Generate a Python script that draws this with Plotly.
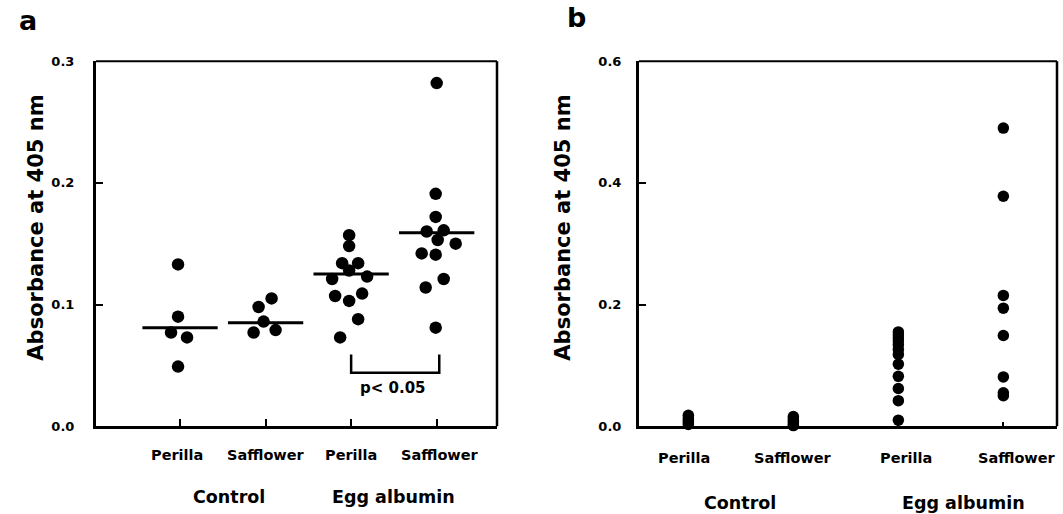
import plotly.graph_objects as go

# ---------------- data ----------------
categories = ["Perilla", "Safflower", "Perilla", "Safflower"]
groups = ["Control", "Egg albumin"]
y_ticks_a = [0.0, 0.1, 0.2, 0.3]
y_ticks_b = [0.0, 0.2, 0.4, 0.6]

# Panel a: individual values per group
a_control_perilla = [0.133, 0.090, 0.077, 0.073, 0.049]
a_control_safflower = [0.105, 0.098, 0.086, 0.077, 0.079]
a_egg_perilla = [0.157, 0.148, 0.134, 0.134, 0.128, 0.121, 0.123, 0.107, 0.109, 0.103, 0.088, 0.073]
a_egg_safflower = [0.282, 0.191, 0.172, 0.160, 0.161, 0.153, 0.150, 0.142, 0.141, 0.121, 0.114, 0.081]
a_means = [0.081, 0.085, 0.125, 0.159]

# Panel b: individual values per group
b_control_perilla = [0.018, 0.014, 0.010, 0.006, 0.003]
b_control_safflower = [0.016, 0.012, 0.008, 0.004, 0.001]
b_egg_perilla = [0.155, 0.150, 0.145, 0.140, 0.134, 0.126, 0.118, 0.102, 0.082, 0.062, 0.042, 0.010]
b_egg_safflower = [0.490, 0.378, 0.215, 0.194, 0.149, 0.081, 0.055, 0.050]

p_label = "p< 0.05"

# ---------------- layout constants ----------------
W, H = 1063, 514
FONT = "DejaVu Sans"
# beeswarm horizontal offsets in pixels (layout only)
a_offsets_px = [
    [-2, -2, -9, 7, -2],
    [6, -7, -2, -12, 10],
    [-2, -2, -9, 7, -2, -19, 16, -16, 11, -2, 7, -11],
    [0, -1, -1, -10, 7, 1, 19, -15, -1, 7, -11, -1],
]

ax_a = dict(x0=96, x1=497, xr=[0.0175, 4.705])
ax_b = dict(x0=639, x1=1057, xr=[0.530, 4.511])
y_top, y_bot = 62, 426

# vertical calibration of the rendered page
Y_OFF, Y_SCALE = 8.0, 0.968


def py(y_px):
    """paper y fraction for a target pixel row"""
    return 1 - ((y_px - Y_OFF) / Y_SCALE) / H


def px_per_unit(ax):
    return (ax["x1"] - ax["x0"]) / (ax["xr"][1] - ax["xr"][0])


fig = go.Figure()

# panel a dots
ppu_a = px_per_unit(ax_a)
a_groups = [a_control_perilla, a_control_safflower, a_egg_perilla, a_egg_safflower]
for i, vals in enumerate(a_groups):
    xs = [i + 1 + o / ppu_a for o in a_offsets_px[i]]
    fig.add_trace(go.Scatter(
        x=xs, y=vals, mode="markers", xaxis="x", yaxis="y",
        marker=dict(size=12.5, color="black", line=dict(width=0)),
        cliponaxis=False, showlegend=False, hoverinfo="skip"))

# panel a mean lines
for i, m in enumerate(a_means):
    fig.add_trace(go.Scatter(
        x=[i + 1 - 0.44, i + 1 + 0.44], y=[m, m], mode="lines",
        xaxis="x", yaxis="y", line=dict(color="black", width=3),
        showlegend=False, hoverinfo="skip"))

# panel b dots
b_groups = [b_control_perilla, b_control_safflower, b_egg_perilla, b_egg_safflower]
for i, vals in enumerate(b_groups):
    fig.add_trace(go.Scatter(
        x=[i + 1] * len(vals), y=vals, mode="markers", xaxis="x2", yaxis="y2",
        marker=dict(size=11.5, color="black", line=dict(width=0)),
        cliponaxis=False, showlegend=False, hoverinfo="skip"))

# significance bracket (panel a)
fig.add_shape(type="path", xref="x", yref="y",
              path="M 3.0,0.059 L 3.0,0.044 L 4.03,0.044 L 4.03,0.059",
              line=dict(color="black", width=2.5))

ydom = [py(y_bot), py(y_top)]
common_y = dict(showgrid=False, zeroline=False, showline=True, linewidth=3,
                linecolor="black", ticks="inside", ticklen=7, tickwidth=2,
                tickcolor="black", tickformat=".1f",
                tickfont=dict(family=FONT, size=13, color="black", weight="bold"))
common_x = dict(showgrid=False, zeroline=False, showline=True, linewidth=3,
                linecolor="black", ticks="inside", tickwidth=2, tickcolor="black",
                tickvals=[1, 2, 3, 4], showticklabels=False)

fig.update_layout(
    width=W, height=H,
    margin=dict(l=0, r=0, t=0, b=0),
    paper_bgcolor="white", plot_bgcolor="white",
    xaxis=dict(domain=[ax_a["x0"] / W, ax_a["x1"] / W], range=ax_a["xr"],
               anchor="y", ticklen=7, **common_x),
    yaxis=dict(domain=ydom, range=[0, 0.3], anchor="x", tickvals=y_ticks_a,
               ticklabelstandoff=16, **common_y),
    xaxis2=dict(domain=[ax_b["x0"] / W, ax_b["x1"] / W], range=ax_b["xr"],
                anchor="y2", ticklen=4, **common_x),
    yaxis2=dict(domain=ydom, range=[0, 0.6], anchor="x2", tickvals=y_ticks_b,
                ticklabelstandoff=12, **common_y),
)

# top and right borders (thinner)
for xa, ya in (("x", "y"), ("x2", "y2")):
    fig.add_shape(type="line", xref=f"{xa} domain", yref=f"{ya} domain",
                  x0=0, x1=1, y0=1, y1=1, line=dict(color="black", width=2))
    fig.add_shape(type="line", xref=f"{xa} domain", yref=f"{ya} domain",
                  x0=1, x1=1, y0=0, y1=1, line=dict(color="black", width=2.5))

ann = []


def txt(text, x, y, size, xref="paper", yref="paper", angle=0, xshift=0):
    ann.append(dict(text=text, x=x, y=y, xref=xref, yref=yref, showarrow=False,
                    textangle=angle, xshift=xshift, xanchor="center", yanchor="middle",
                    font=dict(family=FONT, size=size, color="black", weight="bold")))


# p-value label
txt(p_label, 3.49, 0.0317, 15, xref="x", yref="y")

# category labels
a_shift = [-3, 0, 0, 3]
b_shift = [-4, 0, 8, 14]
for i, c in enumerate(categories):
    txt(c, i + 1, py(455), 14.5, xref="x", xshift=a_shift[i])
    txt(c, i + 1, py(458), 14.5, xref="x2", xshift=b_shift[i])

# group labels
txt(groups[0], 1.573, py(497), 17.5, xref="x")
txt(groups[1], 3.49, py(497), 17.5, xref="x")
txt(groups[0], 1.49, py(503), 17.5, xref="x2")
txt(groups[1], 3.616, py(503), 17.5, xref="x2")

# y axis titles
txt("Absorbance at 405 nm", 36 / W, py(228), 21, angle=-90)
txt("Absorbance at 405 nm", 563 / W, py(228), 21, angle=-90)

# panel letters
txt("a", 28 / W, py(21), 27)
txt("b", 576 / W, py(18), 27)

fig.update_layout(annotations=ann)

fig.write_html(
    "out.html",
    config={"displayModeBar": False},
    post_script="document.body.style.margin='0';document.body.style.overflow='hidden';",
)
